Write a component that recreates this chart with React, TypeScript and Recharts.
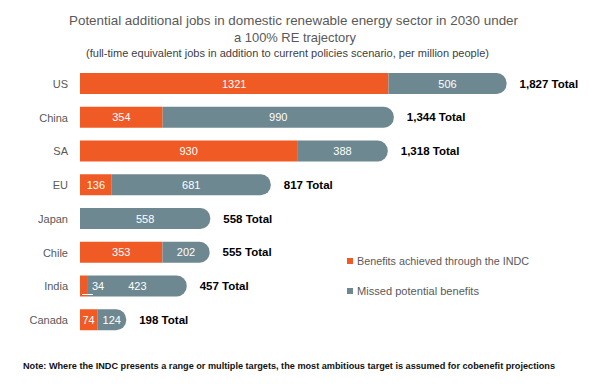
import React from "react";
import { BarChart, Bar, XAxis, YAxis, LabelList, Customized } from "recharts";

const categories = ["US", "China", "SA", "EU", "Japan", "Chile", "India", "Canada"];
const achieved = [1321, 354, 930, 136, 0, 353, 34, 74];
const missed = [506, 990, 388, 681, 558, 202, 423, 124];
const totals = [1827, 1344, 1318, 817, 558, 555, 457, 198];
const legendLabels = ["Benefits achieved through the INDC", "Missed potential benefits"];

const ORANGE = "#F05A24";
const GREY = "#6D8891";
const FONT = "'Liberation Sans', Arial, sans-serif";

const data = categories.map((c, i) => ({
  name: c,
  achieved: achieved[i],
  missed: missed[i],
  total: totals[i],
}));

const fmt = (n: number) => n.toLocaleString("en-US");

const SegLabel = (props: any) => {
  const { x, y, width, height, value } = props;
  if (!value) return null;
  const cy = y + height / 2;
  if (width < 14) {
    return (
      <g>
        <line x1={x + 2} x2={x + width + 5} y1={y + height - 2} y2={y + height - 2} stroke="#fff" strokeWidth={1} />
        <text x={x + width + 4} y={cy} dy={4} fill="#fff" fontSize={11} fontFamily={FONT} textAnchor="start">
          {value}
        </text>
      </g>
    );
  }
  return (
    <text x={x + width / 2} y={cy} dy={4} fill="#fff" fontSize={11} fontFamily={FONT} textAnchor="middle">
      {value}
    </text>
  );
};

const TotalLabel = (props: any) => {
  const { x, y, width, height, index } = props;
  return (
    <text x={x + width + 13} y={y + height / 2} dy={4} fill="#000" fontSize={11.5} fontWeight="bold" fontFamily={FONT} textAnchor="start">
      {fmt(totals[index])} Total
    </text>
  );
};

const Titles = () => (
  <g fontFamily={FONT}>
    <text x={293.5} y={25} textAnchor="middle" fontSize={13} fill="#595959" textLength={449} lengthAdjust="spacingAndGlyphs">
      Potential additional jobs in  domestic renewable energy sector in 2030 under
    </text>
    <text x={295} y={42} textAnchor="middle" fontSize={13} fill="#595959" textLength={122} lengthAdjust="spacingAndGlyphs">
      a 100%  RE trajectory
    </text>
    <text x={287.5} y={57} textAnchor="middle" fontSize={10.5} fill="#404040" textLength={403} lengthAdjust="spacingAndGlyphs">
      (full-time equivalent jobs in addition to current  policies scenario,  per million people)
    </text>
    <text x={289} y={369} textAnchor="middle" fontSize={9.5} fill="#111" fontWeight="bold" textLength={532} lengthAdjust="spacingAndGlyphs">
      Note: Where the INDC presents a range or multiple targets, the most ambitious target is assumed for cobenefit projections
    </text>
    {legendLabels.map((l, i) => (
      <g key={l}>
        <rect x={347} y={258 + i * 30} width={6} height={6} fill={i === 0 ? ORANGE : GREY} />
        <text x={357} y={265 + i * 30} fontSize={10.5} fill="#595959" textLength={i === 0 ? 172 : 122} lengthAdjust="spacingAndGlyphs">
          {l}
        </text>
      </g>
    ))}
  </g>
);

export default function App() {
  return (
    <div style={{ position: "absolute", left: 0, top: 0, width: 589, height: 384, background: "#fff" }}>
      <BarChart
        width={589}
        height={384}
        data={data}
        layout="vertical"
        margin={{ top: 67, right: 42, bottom: 47, left: 0 }}
        barSize={21}
      >
        <XAxis type="number" domain={[0, 2000]} hide />
        <YAxis
          type="category"
          dataKey="name"
          width={80}
          axisLine={false}
          tickLine={false}
          tickSize={0}
          tickMargin={12}
          tick={{ fill: "#595959", fontSize: 11, fontFamily: FONT }}
          interval={0}
        />
        <Bar dataKey="achieved" stackId="a" fill={ORANGE} isAnimationActive={false}>
          <LabelList dataKey="achieved" content={SegLabel} />
        </Bar>
        <Bar dataKey="missed" stackId="a" fill={GREY} radius={[0, 10, 10, 0]} isAnimationActive={false}>
          <LabelList dataKey="missed" content={SegLabel} />
          <LabelList dataKey="total" content={TotalLabel} />
        </Bar>
        <Customized component={Titles} />
      </BarChart>
    </div>
  );
}
